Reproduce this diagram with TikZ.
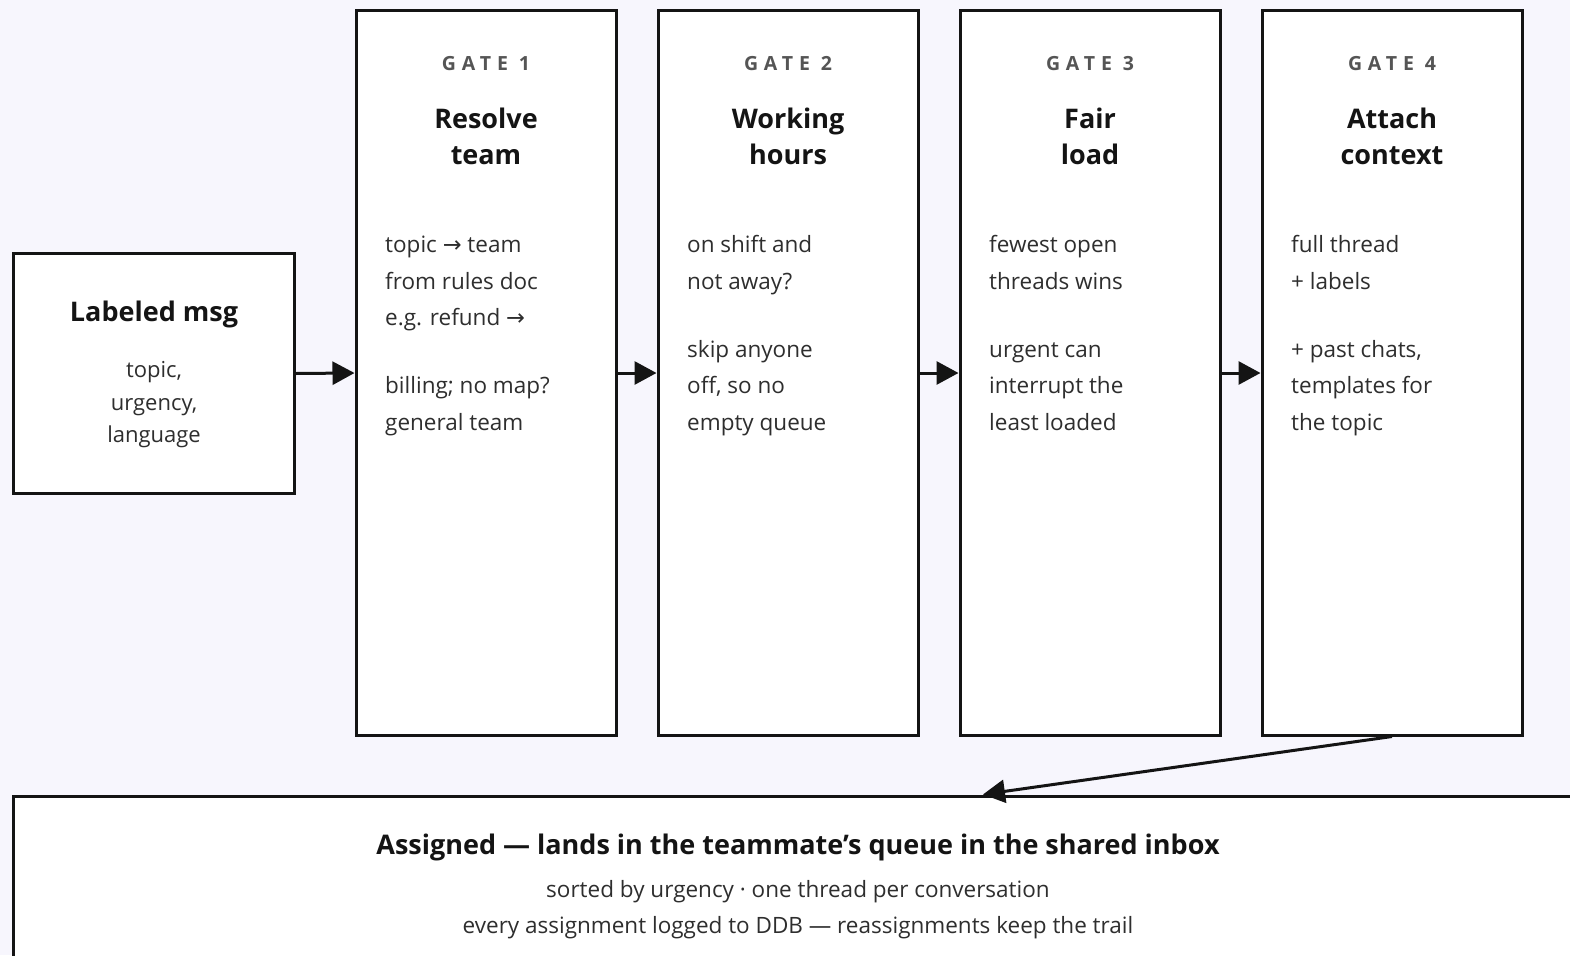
\documentclass[tikz,border=0pt]{standalone}
\usepackage{fontspec}
\setmainfont{Open Sans}
\newfontfamily\arrowfont{DejaVu Sans}
\newfontfamily\tagfont[LetterSpace=30]{Open Sans}
\usetikzlibrary{arrows.meta}
\definecolor{bg}{HTML}{F7F6FD}
\definecolor{ink}{HTML}{141414}
\definecolor{bodyc}{HTML}{2E2E2E}
\definecolor{tagc}{HTML}{555555}
\newcommand\toarrow{{\arrowfont\char"2192}}
\tikzset{
  box/.style={draw=ink, line width=3pt, fill=white, inner sep=0pt},
  gatebox/.style={box, minimum width=260pt, minimum height=724pt},
  tag/.style={font=\tagfont\bfseries\fontsize{19.5}{24}\selectfont, text=tagc, inner sep=0pt},
  title/.style={font=\bfseries\fontsize{27}{36}\selectfont, text=ink, align=center, inner sep=0pt},
  bodyline/.style={anchor=west, font=\fontsize{22.5}{26}\selectfont, text=bodyc,
    text height=16pt, text depth=5pt, inner sep=0pt},
  cline/.style={bodyline, anchor=center},
  flow/.style={draw=ink, line width=3pt, -{Triangle[length=22pt,width=23pt]}},
}
\begin{document}
\begin{tikzpicture}[x=1pt,y=-1pt]
\useasboundingbox (0,0) rectangle (1570,955);
\fill[bg] (0,0) rectangle (1570,955);
\clip (0,0) rectangle (1570,955);

% incoming message
\node[box, minimum width=281pt, minimum height=240pt] (msg) at (154,373.5) {};
\node[title] (msg-t) at (154,314) {Labeled msg};
\node[cline, font=\fontsize{22}{26}\selectfont] (msg-1) at (154,372) {topic,};
\node[cline, font=\fontsize{22}{26}\selectfont] (msg-2) at (154,404.5) {urgency,};
\node[cline, font=\fontsize{22}{26}\selectfont] (msg-3) at (154,437) {language};

% the four gates
\foreach \i/\cx/\ta/\tb in {1/486/Resolve/team, 2/788/Working/hours, 3/1090/Fair/load, 4/1392/Attach/context}{
  \node[gatebox] (g\i) at (\cx,373) {};
  \node[tag] (g\i-tag) at (\cx,64) {GATE \i};
  \node[title] (g\i-t) at (\cx,136.5) {\ta\\\tb};
}

% gate notes
\foreach \n/\y/\txt in {
  1/247/{topic \toarrow\ team}, 2/284/{from rules doc}, 3/320/{e.g. refund \toarrow},
  4/388/{billing; no map?}, 5/425/{general team}}
  \node[bodyline] (g1-\n) at (385,\y) {\txt};
\foreach \n/\y/\txt in {
  1/247/{on shift and}, 2/284/{not away?},
  3/352/{skip anyone}, 4/388/{off, so no}, 5/425/{empty queue}}
  \node[bodyline] (g2-\n) at (687,\y) {\txt};
\foreach \n/\y/\txt in {
  1/247/{fewest open}, 2/284/{threads wins},
  3/352/{urgent can}, 4/388/{interrupt the}, 5/425/{least loaded}}
  \node[bodyline] (g3-\n) at (989,\y) {\txt};
\foreach \n/\y/\txt in {
  1/247/{full thread}, 2/284/{+ labels},
  3/352/{+ past chats,}, 4/388/{templates for}, 5/425/{the topic}}
  \node[bodyline] (g4-\n) at (1291,\y) {\txt};

% result
\node[box, minimum width=1931pt, minimum height=300pt] (out) at (979,946.5) {};
\node[title] (out-t) at (798,847) {Assigned — lands in the teammate’s queue in the shared inbox};
\node[cline] (out-1) at (798,892) {sorted by urgency · one thread per conversation};
\node[cline] (out-2) at (798,928) {every assignment logged to DDB — reassignments keep the trail};

% connectors
\draw[flow] (msg.east) -- (g1.west);
\draw[flow] (g1.east) -- (g2.west);
\draw[flow] (g2.east) -- (g3.west);
\draw[flow] (g3.east) -- (g4.west);
\draw[flow, shorten >=4pt] (g4.south) -- (out.north);
\end{tikzpicture}
\end{document}
